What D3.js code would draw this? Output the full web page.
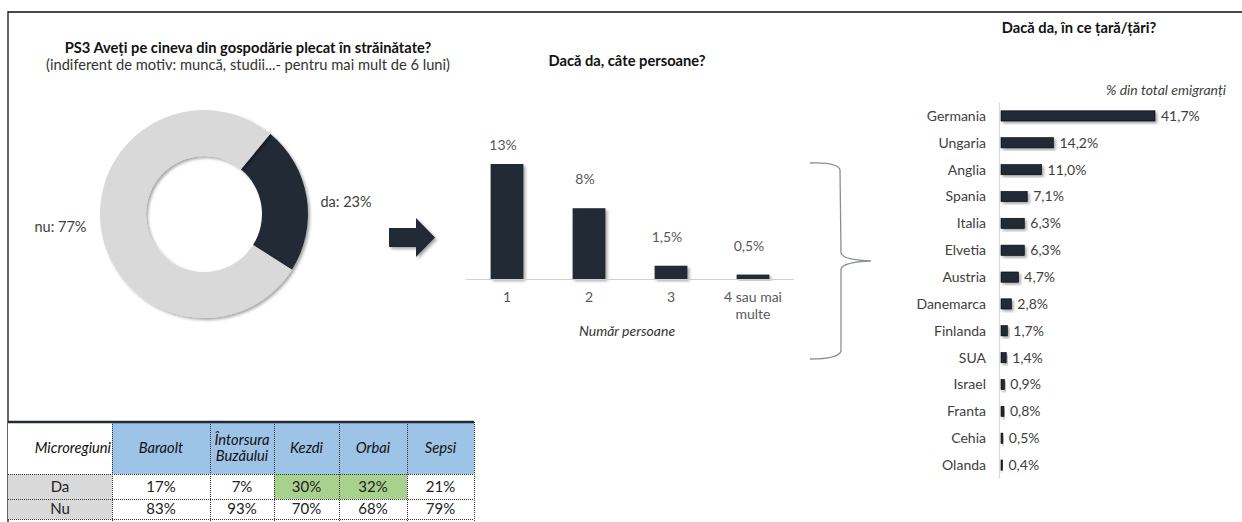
<!DOCTYPE html>
<html>
<head>
<meta charset="utf-8">
<script src="https://cdn.jsdelivr.net/npm/d3@7"></script>
<style>
  html, body { margin: 0; padding: 0; background: #fff; }
  svg { display: block; font-family: Lato, 'Noto Sans', sans-serif; }
</style>
</head>
<body>
<script>
// data
const donutLabels = ['da', 'nu']
const donutValues = [23, 77]

const countCats = ['1', '2', '3', '4 sau mai multe']
const countValues = [13, 8, 1.5, 0.5]
const countLabels = ['13%', '8%', '1,5%', '0,5%']

const countries = ['Germania', 'Ungaria', 'Anglia', 'Spania', 'Italia', 'Elvetia', 'Austria',
    'Danemarca', 'Finlanda', 'SUA', 'Israel', 'Franta', 'Cehia', 'Olanda']
const countryValues = [41.7, 14.2, 11.0, 7.1, 6.3, 6.3, 4.7, 2.8, 1.7, 1.4, 0.9, 0.8, 0.5, 0.4]

const regions = ['Baraolt', 'Întorsura Buzăului', 'Kezdi', 'Orbai', 'Sepsi']
const regionDa = [17, 7, 30, 32, 21]
const regionNu = [83, 93, 70, 68, 79]
const highlighted = ['Kezdi', 'Orbai']

// canvas
const width = 1242
const height = 522
const dark = '#222a35'
const txt = '#404040'
const fmt = v => d3.format('.1f')(v).replace('.', ',') + '%'

const svg = d3.select('body').append('svg')
    .attr('width', width)
    .attr('height', height)

const defs = svg.append('defs')
defs.append('filter')
    .attr('id', 'shadow')
    .attr('x', '-20%').attr('y', '-20%')
    .attr('width', '150%').attr('height', '150%')
    .append('feDropShadow')
    .attr('dx', 2).attr('dy', 2)
    .attr('stdDeviation', 1.6)
    .attr('flood-color', '#000')
    .attr('flood-opacity', 0.35)

// frame
svg.append('line')
    .attr('x1', 8).attr('x2', width).attr('y1', 12).attr('y2', 12)
    .attr('stroke', '#4a4a4a').attr('stroke-width', 2)
svg.append('line')
    .attr('x1', 8).attr('x2', 8).attr('y1', 11).attr('y2', height)
    .attr('stroke', '#333').attr('stroke-width', 1.5)

// ---------- donut ----------
svg.append('text')
    .attr('x', 248).attr('y', 53)
    .attr('text-anchor', 'middle')
    .attr('font-weight', 'bold')
    .attr('font-size', 14.7)
    .attr('fill', '#111')
    .text('PS3 Aveți pe cineva din gospodărie plecat în străinătate?')
svg.append('text')
    .attr('x', 248).attr('y', 70)
    .attr('text-anchor', 'middle')
    .attr('font-size', 14.7)
    .attr('fill', '#333')
    .text('(indiferent de motiv: muncă, studii...- pentru mai mult de 6 luni)')

const donutG = svg.append('g')
    .attr('transform', 'translate(204, 214)')
const pie = d3.pie()
    .sort(null)
    .startAngle(0.69)
    .endAngle(0.69 + 2 * Math.PI)
const arc = d3.arc().innerRadius(58).outerRadius(104)
const arcs = pie(donutValues)
donutG.selectAll('path')
    .data(arcs)
    .join('path')
    .attr('d', arc)
    .attr('fill', (d, i) => i === 0 ? dark : '#d9d9d9')
    .attr('filter', 'url(#shadow)')
const labelArc = d3.arc().innerRadius(120).outerRadius(120)
donutG.selectAll('text.dl')
    .data(arcs)
    .join('text')
    .attr('class', 'dl')
    .attr('transform', d => {
        const [x, y] = labelArc.centroid(d)
        return `translate(${x}, ${y})`
    })
    .attr('dx', (d, i) => i === 0 ? -2 : 1)
    .attr('dy', (d, i) => i === 0 ? 12 : -1)
    .attr('text-anchor', (d, i) => i === 0 ? 'start' : 'end')
    .attr('font-size', 14.5)
    .attr('fill', txt)
    .text((d, i) => `${donutLabels[i]}: ${donutValues[i]}%`)

// arrow
svg.append('path')
    .attr('d', 'M389,228 L416,228 L416,218 L435,237.5 L416,257 L416,247 L389,247 Z')
    .attr('fill', dark)
    .attr('filter', 'url(#shadow)')

// ---------- count bars ----------
svg.append('text')
    .attr('x', 627).attr('y', 66)
    .attr('text-anchor', 'middle')
    .attr('font-weight', 'bold')
    .attr('font-size', 14.7)
    .attr('fill', '#111')
    .text('Dacă da, câte persoane?')

const cx = d3.scaleBand()
    .domain(countCats)
    .range([466, 794])
    .paddingInner(0.6)
    .paddingOuter(0.3)
const cy = d3.scaleLinear()
    .domain([0, 13])
    .range([279, 164])

const countG = svg.append('g')
countG.selectAll('rect')
    .data(countValues)
    .join('rect')
    .attr('x', (d, i) => cx(countCats[i]))
    .attr('y', d => cy(d))
    .attr('width', cx.bandwidth())
    .attr('height', d => cy(0) - cy(d))
    .attr('fill', dark)
    .attr('filter', 'url(#shadow)')
countG.selectAll('text.vl')
    .data(countValues)
    .join('text')
    .attr('class', 'vl')
    .attr('x', (d, i) => cx(countCats[i]) + cx.bandwidth() / 2 - 4)
    .attr('y', d => Math.max(cy(d) - 24, 150))
    .attr('text-anchor', 'middle')
    .attr('font-size', 14)
    .attr('fill', '#595959')
    .text((d, i) => countLabels[i])

const cAxis = svg.append('g')
    .attr('transform', `translate(0, ${cy(0)})`)
    .call(d3.axisBottom(cx).tickSize(0).tickPadding(13))
cAxis.select('.domain').attr('stroke', '#d0d0d0').attr('stroke-width', 1.2)
    .attr('d', 'M466,0.5H794')
cAxis.selectAll('.tick text')
    .attr('font-family', 'Lato, sans-serif')
    .attr('font-size', 14)
    .attr('fill', '#595959')
    .each(function (d) {
        const words = d.split(' ')
        if (words.length > 1) {
            const t = d3.select(this).text(null)
            t.append('tspan').attr('x', 0).attr('dy', '0.71em').text(words.slice(0, 3).join(' '))
            t.append('tspan').attr('x', 0).attr('dy', '1.2em').text(words.slice(3).join(' '))
        }
    })
svg.append('text')
    .attr('x', 627).attr('y', 336)
    .attr('text-anchor', 'middle')
    .attr('font-style', 'italic')
    .attr('font-size', 14)
    .attr('fill', '#333')
    .text('Număr persoane')

// brace
svg.append('path')
    .attr('d', 'M810,163 Q838,162 840,170 L841,253 Q843,260 871,261 Q843,262 841,269 L841,351 Q839,359 810,359')
    .attr('fill', 'none')
    .attr('stroke', '#8a8f96')
    .attr('stroke-width', 1.3)

// ---------- countries ----------
svg.append('text')
    .attr('x', 1079).attr('y', 33)
    .attr('text-anchor', 'middle')
    .attr('font-weight', 'bold')
    .attr('font-size', 14.7)
    .attr('fill', '#111')
    .text('Dacă da, în ce țară/țări?')
svg.append('text')
    .attr('x', 1106).attr('y', 95)
    .attr('font-style', 'italic')
    .attr('font-size', 14)
    .attr('fill', '#404040')
    .text('% din total emigranți')

const rx = d3.scaleLinear()
    .domain([0, 41.7])
    .range([1001, 1155])
const ry = d3.scaleBand()
    .domain(countries)
    .range([102.5, 478.5])
    .paddingInner(0.62)
    .paddingOuter(0.31)

const ctyG = svg.append('g')
ctyG.append('line')
    .attr('x1', 999.5).attr('x2', 999.5)
    .attr('y1', ry.range()[0]).attr('y2', ry.range()[1])
    .attr('stroke', '#d9d9d9').attr('stroke-width', 1.2)
ctyG.selectAll('rect')
    .data(countryValues)
    .join('rect')
    .attr('x', rx(0))
    .attr('y', (d, i) => ry(countries[i]))
    .attr('width', d => rx(d) - rx(0))
    .attr('height', ry.bandwidth())
    .attr('fill', dark)
    .attr('stroke', '#000')
    .attr('stroke-width', 0.6)
    .attr('filter', 'url(#shadow)')
ctyG.selectAll('text.cv')
    .data(countryValues)
    .join('text')
    .attr('class', 'cv')
    .attr('x', d => rx(d) + 6)
    .attr('y', (d, i) => ry(countries[i]) + ry.bandwidth() / 2)
    .attr('dy', '0.35em')
    .attr('font-size', 14)
    .attr('fill', txt)
    .text(d => fmt(d))
ctyG.selectAll('text.cn')
    .data(countries)
    .join('text')
    .attr('class', 'cn')
    .attr('x', 986)
    .attr('y', d => ry(d) + ry.bandwidth() / 2)
    .attr('dy', '0.35em')
    .attr('text-anchor', 'end')
    .attr('font-size', 14)
    .attr('fill', txt)
    .text(d => d)

// ---------- table ----------
const colWidths = [104, 98, 64, 65, 68, 67]
const colX = [8]
colWidths.forEach(w => colX.push(colX[colX.length - 1] + w))
const rowY = [422, 474, 499, 519]
const tableG = svg.append('g')

function cell(x, y, w, h, fill) {
    tableG.append('rect')
        .attr('x', x).attr('y', y)
        .attr('width', w).attr('height', h)
        .attr('fill', fill)
}
// fills
cell(colX[0], rowY[0], colWidths[0], rowY[1] - rowY[0], '#fff')
regions.forEach((r, i) => {
    cell(colX[i + 1], rowY[0], colWidths[i + 1], rowY[1] - rowY[0], '#9dc3e6')
    cell(colX[i + 1], rowY[1], colWidths[i + 1], rowY[2] - rowY[1], highlighted.includes(r) ? '#a9d18e' : '#fff')
    cell(colX[i + 1], rowY[2], colWidths[i + 1], rowY[3] - rowY[2], '#fff')
})
cell(colX[0], rowY[1], colWidths[0], rowY[2] - rowY[1], '#d9d9d9')
cell(colX[0], rowY[2], colWidths[0], rowY[3] - rowY[2], '#d9d9d9')

// dotted grid
colX.slice(1).forEach(x => {
    tableG.append('line')
        .attr('x1', x + 0.5).attr('x2', x + 0.5)
        .attr('y1', rowY[0]).attr('y2', rowY[3] + 3)
        .attr('stroke', '#333').attr('stroke-width', 1)
        .attr('stroke-dasharray', '1,1')
})
rowY.slice(1).forEach(y => {
    tableG.append('line')
        .attr('x1', 8).attr('x2', colX[colX.length - 1])
        .attr('y1', y + 0.5).attr('y2', y + 0.5)
        .attr('stroke', '#333').attr('stroke-width', 1)
        .attr('stroke-dasharray', '1,1')
})
tableG.append('line')
    .attr('x1', 8).attr('x2', colX[colX.length - 1])
    .attr('y1', rowY[0]).attr('y2', rowY[0])
    .attr('stroke', '#222a35').attr('stroke-width', 2.5)

// header texts
tableG.append('text')
    .attr('x', colX[1] - 1).attr('y', (rowY[0] + rowY[1]) / 2 + 5)
    .attr('text-anchor', 'end')
    .attr('font-style', 'italic')
    .attr('font-size', 14.7)
    .attr('fill', '#111')
    .text('Microregiuni')
regions.forEach((r, i) => {
    const cxm = colX[i + 1] + colWidths[i + 1] / 2
    const words = r.split(' ')
    const t = tableG.append('text')
        .attr('x', cxm)
        .attr('text-anchor', 'middle')
        .attr('font-style', 'italic')
        .attr('font-size', 14.7)
        .attr('fill', '#111')
    if (words.length > 1) {
        t.attr('y', (rowY[0] + rowY[1]) / 2 - 3)
        t.append('tspan').attr('x', cxm).text(words[0])
        t.append('tspan').attr('x', cxm).attr('dy', 16).text(words[1])
    } else {
        t.attr('y', (rowY[0] + rowY[1]) / 2 + 5).text(r)
    }
    tableG.append('text')
        .attr('x', cxm).attr('y', (rowY[1] + rowY[2]) / 2 + 5)
        .attr('text-anchor', 'middle')
        .attr('font-size', 15)
        .attr('fill', '#222')
        .text(regionDa[i] + '%')
    tableG.append('text')
        .attr('x', cxm).attr('y', (rowY[2] + rowY[3]) / 2 + 5)
        .attr('text-anchor', 'middle')
        .attr('font-size', 15)
        .attr('fill', '#222')
        .text(regionNu[i] + '%')
})
tableG.append('text')
    .attr('x', colX[0] + colWidths[0] / 2).attr('y', (rowY[1] + rowY[2]) / 2 + 5)
    .attr('text-anchor', 'middle')
    .attr('font-size', 15)
    .attr('fill', '#222')
    .text('Da')
tableG.append('text')
    .attr('x', colX[0] + colWidths[0] / 2).attr('y', (rowY[2] + rowY[3]) / 2 + 5)
    .attr('text-anchor', 'middle')
    .attr('font-size', 15)
    .attr('fill', '#222')
    .text('Nu')
</script>
</body>
</html>
